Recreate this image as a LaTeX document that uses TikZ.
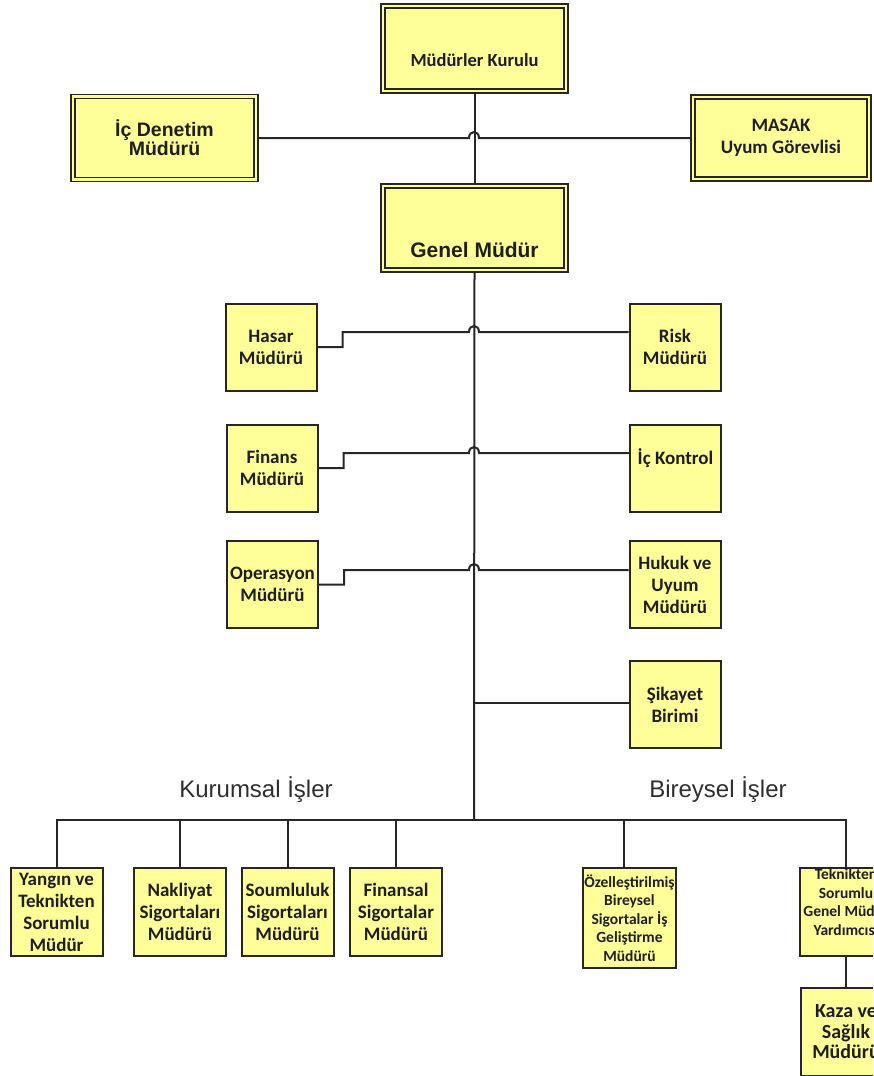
\documentclass[tikz,border=0pt]{standalone}
\usepackage{fontspec}
\setmainfont{Carlito}
\newfontfamily\arialf{Liberation Sans}
\definecolor{boxfill}{HTML}{FFFF99}
\definecolor{ln}{HTML}{262626}
\definecolor{txt}{HTML}{1E1E1E}
\tikzset{
  box/.style={draw=ln, line width=2pt, fill=boxfill, inner sep=1pt, align=center, text=txt,
    font=\bfseries\fontsize{19}{22}\selectfont},
  dbox/.style={box, line width=1.8pt, double=boxfill, double distance=2.2pt, outer sep=2.9pt},
  midbox/.style={box, minimum width=91pt, minimum height=87pt},
  botbox/.style={box, minimum width=92pt, minimum height=88pt},
  smalltxt/.style={font=\bfseries\fontsize{15.5}{18.5}\selectfont, text=txt},
  conn/.style={draw=ln, line width=2pt},
  lbl/.style={font=\arialf\fontsize{24}{28}\selectfont, text=black!82}
}
\begin{document}
\begin{tikzpicture}[x=1pt,y=-1pt]
\useasboundingbox (0,0) rectangle (873,1076);
\clip (0,0) rectangle (873,1076);

% top level
\node[dbox, minimum width=183pt, minimum height=85pt] (mk) at (474.5,48.5) {};
\node[font=\bfseries\fontsize{18.5}{22}\selectfont, text=txt] (mkt) at (474.5,60) {Müdürler Kurulu};
\node[dbox, minimum width=183pt, minimum height=83pt,
      font=\arialf\bfseries\fontsize{19.5}{18}\selectfont] (icd) at (164.5,138) {İç Denetim\\Müdürü};
\node[dbox, minimum width=176pt, minimum height=82pt] (masak) at (781,138) {MASAK\\Uyum Görevlisi};
\node[dbox, minimum width=183pt, minimum height=84pt] (gm) at (474.5,228) {};
\node[font=\arialf\bfseries\fontsize{21}{22}\selectfont, text=txt] (gmt) at (474.5,250) {Genel Müdür};

% middle level
\node[midbox] (hasar) at (271,347) {Hasar\\Müdürü};
\node[midbox] (risk) at (675,347) {Risk\\Müdürü};
\node[midbox] (finans) at (272,468) {Finans\\Müdürü};
\node[midbox] (ick) at (675.5,468) {};
\node[font=\bfseries\fontsize{19}{22}\selectfont, text=txt] (ickt) at (675.5,458) {İç Kontrol};
\node[midbox] (oper) at (272.5,584.5) {Operasyon\\Müdürü};
\node[midbox] (hukuk) at (675,584.5) {Hukuk ve\\Uyum\\Müdürü};
\node[midbox] (sikayet) at (675,704.5) {Şikayet\\Birimi};

% labels
\node[lbl] (kur) at (256,790) {Kurumsal İşler};
\node[lbl] (bir) at (718,790) {Bireysel İşler};

% bottom level
\node[botbox] (yangin) at (56.5,912) {Yangın ve\\Teknikten\\Sorumlu\\Müdür};
\node[botbox] (nakliyat) at (180,912) {Nakliyat\\Sigortaları\\Müdürü};
\node[botbox] (soum) at (287.5,912) {Soumluluk\\Sigortaları\\Müdürü};
\node[botbox] (finansal) at (396,912) {Finansal\\Sigortalar\\Müdürü};
\node[box, smalltxt, minimum width=91pt, minimum height=100pt] (ozel) at (629.5,918)
  {Özelleştirilmiş\\Bireysel\\Sigortalar İş\\Geliştirme\\Müdürü};
\node[botbox] (teknik) at (846,912) {};
\node[smalltxt, align=center] (teknikt) at (846,902) {Teknikten\\Sorumlu\\Genel Müdür\\Yardımcısı};
\node[box, minimum width=91pt, minimum height=88pt, font=\bfseries\fontsize{20}{20.5}\selectfont]
  (kaza) at (846,1032) {Kaza ve\\Sağlık\\Müdürü};

% junction coordinates
\coordinate (j0) at (474,138);
\coordinate (j1) at (474,332);
\coordinate (j2) at (474,453);
\coordinate (j3) at (474,570);
\coordinate (j4) at (474,703);
\coordinate (bus) at (474,820);

% connectors
\draw[conn] (mk.south) -- (gm.north);
\draw[conn] (icd.east) -- ([xshift=-5pt]j0) .. controls +(0,-8) and +(0,-8) .. ([xshift=5pt]j0) -- (masak.west);
\draw[conn] (gm.south) -- (bus);
\draw[conn] (hasar.east) -- ++(25,0) |- ([xshift=-5pt]j1) .. controls +(0,-8) and +(0,-8) .. ([xshift=5pt]j1) -- (risk.west |- j1);
\draw[conn] (finans.east) -- ++(25,0) |- ([xshift=-5pt]j2) .. controls +(0,-8) and +(0,-8) .. ([xshift=5pt]j2) -- (ick.west |- j2);
\draw[conn] (oper.east) -- ++(25,0) |- ([xshift=-5pt]j3) .. controls +(0,-8) and +(0,-8) .. ([xshift=5pt]j3) -- (hukuk.west |- j3);
\draw[conn] (j4) -- (sikayet.west |- j4);

\draw[conn] (yangin.north) -- (yangin.north |- bus) -- (teknik.north |- bus) -- (teknik.north);
\draw[conn] (nakliyat.north) -- (nakliyat.north |- bus);
\draw[conn] (soum.north) -- (soum.north |- bus);
\draw[conn] (finansal.north) -- (finansal.north |- bus);
\draw[conn] ([xshift=-5.5pt]ozel.north) -- ([xshift=-5.5pt]ozel.north |- bus);
\draw[conn] (teknik.south) -- (kaza.north);
\end{tikzpicture}
\end{document}
